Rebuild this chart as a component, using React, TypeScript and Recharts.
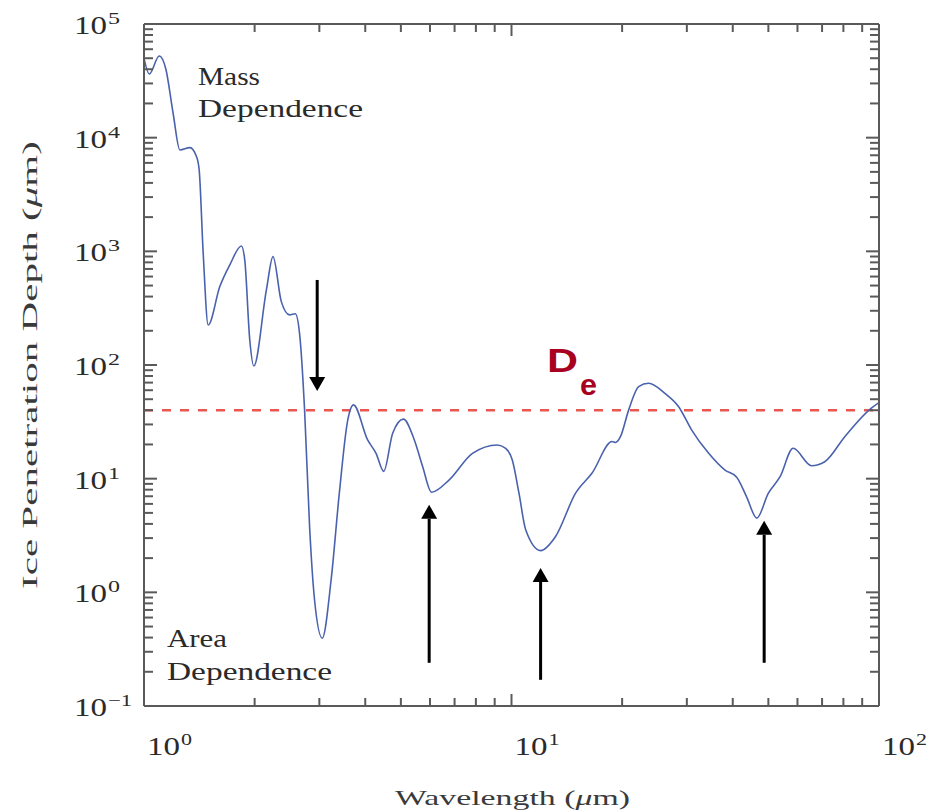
import { LineChart, Line, XAxis, YAxis, ReferenceLine } from "recharts";

// wavelength (µm) and ice penetration depth (µm)
const wavelength = [
  1.0, 1.034, 1.1, 1.147, 1.2, 1.252, 1.333, 1.39, 1.413, 1.449, 1.495, 1.608,
  1.712, 1.841, 1.88, 1.94, 1.99, 2.153, 2.244, 2.364, 2.49, 2.58, 2.65, 2.735,
  2.822, 2.911, 3.055, 3.23, 3.4, 3.585, 3.715, 4.06, 4.28, 4.49, 4.75, 5.08,
  5.44, 5.73, 6.06, 6.77, 7.83, 9.15, 9.64, 10.05, 10.48, 10.93, 12.0, 13.18,
  14.94, 16.57, 18.78, 19.18, 19.79, 20.84, 22.18, 23.6, 26.2, 28.5, 30.9, 34.4,
  38.1, 41.0, 43.6, 46.5, 50.0, 53.8, 58.4, 65.5, 71.2, 80.7, 95.3, 100,
];
const depth = [
  49900, 36300, 52300, 40000, 16400, 7800, 8170, 6800, 5200, 962, 225, 490,
  760, 1115, 840, 166, 98, 458, 899, 361, 276, 282, 190, 40.3,
  3.79, 0.86, 0.395, 1.29, 7.45, 32.9, 44.6, 21.9, 16.7, 11.6, 25.1, 33.4,
  21.9, 12.8, 7.6, 9.77, 16.7, 19.8, 18.5, 14.6, 7.45, 3.55, 2.33, 3.1,
  7.45, 11.2, 21.2, 20.8, 23.4, 40.3, 64.6, 69, 56, 43, 26.9, 16.7,
  11.9, 10.3, 6.96, 4.5, 7.45, 10.4, 18.5, 13.0, 14.1, 23.4, 41.7, 46.7,
];

const xDecades = [1, 10, 100];
const yDecades = [0.1, 1, 10, 100, 1000, 10000, 100000];
const minorSteps = [1, 2, 3, 4, 5, 6, 7, 8, 9];

// effective diameter threshold
const deThreshold = 40;

// arrows marking absorption features: wavelength, tail depth, tip depth
const arrows = [
  { x: 2.96, from: 560, to: 59 },
  { x: 5.97, from: 0.24, to: 5.9 },
  { x: 12.0, from: 0.17, to: 1.64 },
  { x: 48.7, from: 0.24, to: 4.26 },
];

const data = wavelength.map((w, i) => ({ w, d: depth[i] }));

const buildTicks = (decades: number[]) => {
  const out: number[] = [];
  decades.forEach((d, i) => {
    if (i === decades.length - 1) out.push(d);
    else minorSteps.forEach((m) => out.push(d * m));
  });
  return out;
};
const xTicks = buildTicks(xDecades);
const yTicks = buildTicks(yDecades);

const axisColor = "#5a5a5a";
const textColor = "#2a2a2a";
const serif = "'Liberation Serif', 'DejaVu Serif', serif";

const isMajor = (v: number) =>
  Math.abs(Math.log10(v) - Math.round(Math.log10(v))) < 1e-6;
const expText = (v: number) => {
  const e = Math.round(Math.log10(v));
  return e < 0 ? "\u2212" + Math.abs(e) : String(e);
};

const BottomTick = (props: any) => {
  const { x, y, payload } = props;
  const major = isMajor(payload.value);
  const len = major ? 12 : 8;
  const sup = expText(payload.value);
  return (
    <g>
      <line x1={x} y1={y} x2={x} y2={y - len} stroke={axisColor} strokeWidth={2} />
      {major && (
        <>
          <text x={x + 3} y={y + 49} fontSize={26} fontFamily={serif} fill={textColor}
            textLength={33} lengthAdjust="spacingAndGlyphs">10</text>
          <text x={x + 37} y={y + 39} fontSize={17} fontFamily={serif} fill={textColor}
            textLength={sup.length * 11} lengthAdjust="spacingAndGlyphs">{sup}</text>
        </>
      )}
    </g>
  );
};

const TopTick = (props: any) => {
  const { x, y, payload } = props;
  const len = isMajor(payload.value) ? 12 : 8;
  return <line x1={x} y1={y} x2={x} y2={y + len} stroke={axisColor} strokeWidth={2} />;
};

const LeftTick = (props: any) => {
  const { x, y, payload } = props;
  const major = isMajor(payload.value);
  const len = major ? 13 : 9;
  const sup = expText(payload.value);
  return (
    <g>
      <line x1={x} y1={y} x2={x + len} y2={y} stroke={axisColor} strokeWidth={2} />
      {major && (
        <>
          <text x={74} y={y + 10} fontSize={26} fontFamily={serif} fill={textColor}
            textLength={33} lengthAdjust="spacingAndGlyphs">10</text>
          <text x={108} y={y} fontSize={17} fontFamily={serif} fill={textColor}
            textLength={sup.length * 12} lengthAdjust="spacingAndGlyphs">{sup}</text>
        </>
      )}
    </g>
  );
};

const RightTick = (props: any) => {
  const { x, y, payload } = props;
  const len = isMajor(payload.value) ? 13 : 9;
  return <line x1={x} y1={y} x2={x - len} y2={y} stroke={axisColor} strokeWidth={2} />;
};

const Arrow = (props: any) => {
  const { x1, y1, x2, y2 } = props;
  const dir = y2 > y1 ? 1 : -1;
  const head = 14;
  return (
    <g>
      <line x1={x1} y1={y1} x2={x2} y2={y2 - dir * head} stroke="#000" strokeWidth={3} />
      <polygon
        points={`${x2},${y2} ${x2 - 8},${y2 - dir * head} ${x2 + 8},${y2 - dir * head}`}
        fill="#000"
      />
    </g>
  );
};

export default function App() {
  return (
    <div style={{ position: "absolute", left: 0, top: 0, width: 931, height: 812, background: "#fff" }}>
      <LineChart
        width={931}
        height={812}
        data={data}
        margin={{ top: 23, right: 51, bottom: 46, left: 64 }}
      >
        <XAxis
          dataKey="w"
          type="number"
          scale="log"
          domain={[1, 100]}
          ticks={xTicks}
          interval={0}
          allowDataOverflow
          height={60}
          tickSize={0}
          tickMargin={0}
          tickLine={false}
          axisLine={{ stroke: axisColor, strokeWidth: 2 }}
          tick={<BottomTick />}
        />
        <XAxis
          xAxisId="top"
          dataKey="w"
          orientation="top"
          type="number"
          scale="log"
          domain={[1, 100]}
          ticks={xTicks}
          interval={0}
          allowDataOverflow
          height={1}
          tickSize={0}
          tickMargin={0}
          tickLine={false}
          axisLine={{ stroke: axisColor, strokeWidth: 2 }}
          tick={<TopTick />}
        />
        <YAxis
          type="number"
          scale="log"
          domain={[0.1, 100000]}
          ticks={yTicks}
          interval={0}
          allowDataOverflow
          width={80}
          tickSize={0}
          tickMargin={0}
          tickLine={false}
          axisLine={{ stroke: axisColor, strokeWidth: 2 }}
          tick={<LeftTick />}
        />
        <YAxis
          yAxisId="right"
          orientation="right"
          type="number"
          scale="log"
          domain={[0.1, 100000]}
          ticks={yTicks}
          interval={0}
          allowDataOverflow
          width={1}
          tickSize={0}
          tickMargin={0}
          tickLine={false}
          axisLine={{ stroke: axisColor, strokeWidth: 2 }}
          tick={<RightTick />}
        />
        <ReferenceLine
          y={deThreshold}
          stroke="#e9574f"
          strokeWidth={2.5}
          strokeDasharray="9 9"
        />
        {arrows.map((a, i) => (
          <ReferenceLine
            key={i}
            segment={[
              { x: a.x, y: a.from },
              { x: a.x, y: a.to },
            ]}
            shape={<Arrow />}
          />
        ))}
        <Line
          type="monotone"
          dataKey="d"
          stroke="#4a62ad"
          strokeWidth={1.6}
          dot={false}
          isAnimationActive={false}
        />
        {/* hidden series so the mirrored top/right axes are drawn */}
        <Line
          xAxisId="top"
          yAxisId="right"
          dataKey="d"
          stroke="none"
          dot={false}
          activeDot={false}
          legendType="none"
          isAnimationActive={false}
        />
      </LineChart>
      <svg
        width={931}
        height={812}
        style={{ position: "absolute", left: 0, top: 0, pointerEvents: "none" }}
      >
        <g fontFamily={serif} fill={textColor} fontSize={26}>
          <text x={198} y={85} textLength={62} lengthAdjust="spacingAndGlyphs">Mass</text>
          <text x={198} y={117} textLength={165} lengthAdjust="spacingAndGlyphs">Dependence</text>
          <text x={167} y={647} textLength={60} lengthAdjust="spacingAndGlyphs">Area</text>
          <text x={167} y={680} textLength={165} lengthAdjust="spacingAndGlyphs">Dependence</text>
        </g>
        <g fontFamily={serif} fill="#3a3a3a" fontSize={22}>
          <text x={395} y={805} textLength={235} lengthAdjust="spacingAndGlyphs">
            Wavelength (<tspan fontStyle="italic">μ</tspan>m)
          </text>
          <text
            transform="translate(37 365) rotate(-90)"
            textAnchor="middle"
            textLength={448}
            lengthAdjust="spacingAndGlyphs"
          >
            Ice Penetration Depth (<tspan fontStyle="italic">μ</tspan>m)
          </text>
        </g>
        <g fontFamily="'Liberation Sans', Arial, sans-serif" fontWeight="bold" fill="#a8001f">
          <text x={547} y={372} fontSize={34} textLength={31} lengthAdjust="spacingAndGlyphs">D</text>
          <text x={580} y={395} fontSize={30} textLength={17} lengthAdjust="spacingAndGlyphs">e</text>
        </g>
      </svg>
    </div>
  );
}
